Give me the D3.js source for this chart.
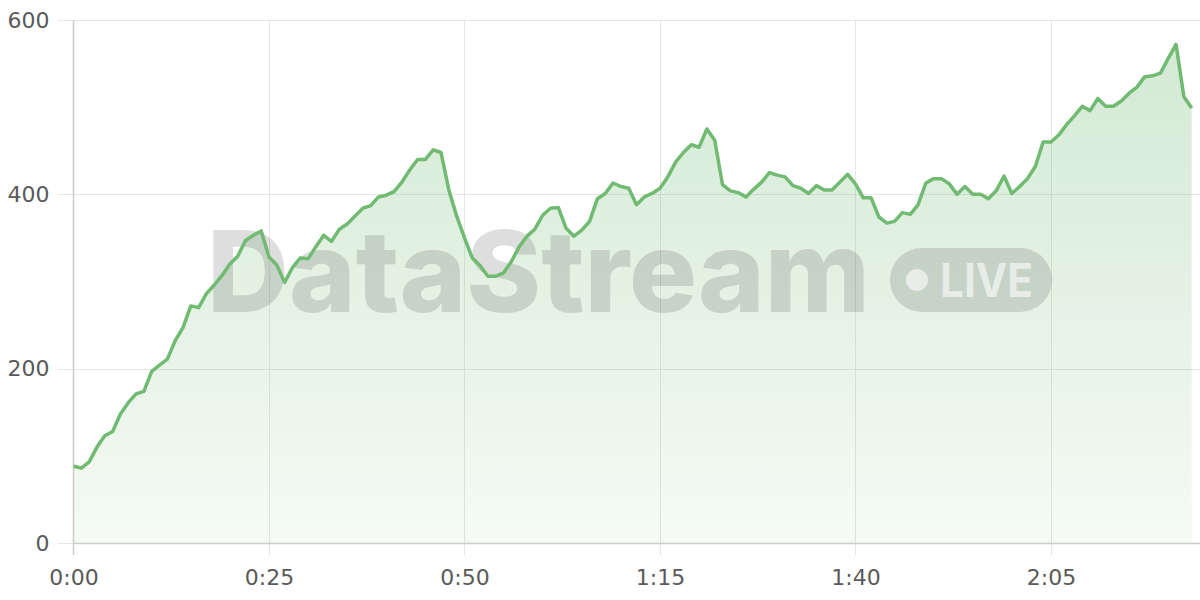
<!DOCTYPE html>
<html>
<head>
<meta charset="utf-8">
<script src="https://cdn.jsdelivr.net/npm/d3@7"></script>
<style>
  html, body { margin: 0; padding: 0; background: #ffffff; }
  svg { display: block; }
</style>
</head>
<body>
<svg id="chart" width="1200" height="600"></svg>
<script>
// ---- data ----
const seconds = d3.range(0, 144);
const values = [
  88, 86, 93, 110, 123, 128, 148, 161, 171, 174,
  197, 204, 211, 232, 247, 272, 270, 286, 296, 307,
  320, 329, 347, 353, 358, 328, 319, 299, 316, 327,
  326, 340, 353, 346, 360, 366, 375, 384, 387, 397,
  399, 403, 414, 428, 440, 440, 451, 448, 405, 375,
  350, 327, 318, 306, 306, 310, 323, 340, 352, 360,
  376, 384, 385, 361, 352, 359, 369, 395, 401, 413,
  409, 407, 388, 397, 401, 407, 420, 437, 448, 457,
  454, 475, 462, 411, 404, 402, 397, 406, 414, 425,
  422, 420, 410, 407, 401, 410, 405, 405, 414, 423,
  412, 396, 396, 374, 367, 369, 379, 377, 388, 413,
  418, 418, 412, 400, 409, 400, 400, 395, 404, 421,
  401, 409, 418, 432, 460, 460, 468, 480, 490, 501,
  496, 510, 501, 501, 507, 516, 523, 535, 536, 539,
  556, 572, 512, 499
];
const yTicks = [0, 200, 400, 600];
const xTicks = [0, 25, 50, 75, 100, 125];
const watermarkText = "DataStream";
const badgeText = "LIVE";

// ---- layout ----
const svg = d3.select("#chart");
const mLeft = 73.5, mRight = 1191.7, mTop = 20, mBottom = 543;
const x = d3.scaleLinear().domain([0, 143]).range([mLeft, mRight]);
const y = d3.scaleLinear().domain([0, 600]).range([mBottom, mTop]);
const fmt = s => Math.floor(s / 60) + ":" + String(s % 60).padStart(2, "0");
const green = "rgb(112,186,114)";

const defs = svg.append("defs");
const grad = defs.append("linearGradient")
  .attr("id", "fillGrad").attr("gradientUnits", "userSpaceOnUse")
  .attr("x1", 0).attr("x2", 0).attr("y1", y(600)).attr("y2", y(0));
grad.append("stop").attr("offset", "0%").attr("stop-color", green).attr("stop-opacity", 0.32);
grad.append("stop").attr("offset", "100%").attr("stop-color", green).attr("stop-opacity", 0.07);

// grid
svg.append("g").selectAll("line").data(yTicks).join("line")
  .attr("x1", 58).attr("x2", 1200)
  .attr("y1", d => Math.round(y(d)) + 0.5).attr("y2", d => Math.round(y(d)) + 0.5)
  .attr("stroke", "#e6e6e6").attr("stroke-width", 1);
svg.append("g").selectAll("line").data(xTicks.filter(d => d > 0)).join("line")
  .attr("x1", d => Math.round(x(d)) + 0.5).attr("x2", d => Math.round(x(d)) + 0.5)
  .attr("y1", mTop).attr("y2", 555)
  .attr("stroke", "#e6e6e6").attr("stroke-width", 1);

// area
const pts = seconds.map((s, i) => ({ s, v: values[i] }));
svg.append("path").datum(pts)
  .attr("fill", "url(#fillGrad)")
  .attr("d", d3.area().x(d => x(d.s)).y0(y(0)).y1(d => y(d.v)));

// watermark
const wm = svg.append("g");
wm.append("text")
  .attr("x", 207).attr("y", 312)
  .attr("textLength", 663).attr("lengthAdjust", "spacingAndGlyphs")
  .style("font-family", "Inter, 'Open Sans', sans-serif")
  .style("font-weight", 800).style("font-size", "113px")
  .attr("fill", "rgba(60,60,60,0.17)")
  .text(watermarkText);
wm.append("rect")
  .attr("x", 890).attr("y", 248).attr("width", 162).attr("height", 64).attr("rx", 32)
  .attr("fill", "rgba(60,60,60,0.17)");
wm.append("circle").attr("cx", 917).attr("cy", 280).attr("r", 11)
  .attr("fill", "rgba(255,255,255,0.6)");
wm.append("text")
  .attr("x", 940).attr("y", 297)
  .attr("textLength", 93).attr("lengthAdjust", "spacingAndGlyphs")
  .style("font-family", "Inter, 'Open Sans', sans-serif")
  .style("font-weight", 700).style("font-size", "46px")
  .attr("fill", "rgba(255,255,255,0.6)")
  .text(badgeText);

// axis lines
svg.append("line").attr("x1", mLeft).attr("x2", mLeft).attr("y1", mTop).attr("y2", 555)
  .attr("stroke", "#cccccc").attr("stroke-width", 1.5);
svg.append("line").attr("x1", mLeft).attr("x2", 1200).attr("y1", mBottom + 0.5).attr("y2", mBottom + 0.5)
  .attr("stroke", "#cccccc").attr("stroke-width", 1.5);

// line
svg.append("path").datum(pts)
  .attr("fill", "none").attr("stroke", green).attr("stroke-width", 3.5)
  .attr("stroke-linejoin", "round")
  .attr("d", d3.line().x(d => x(d.s)).y(d => y(d.v)));

// axes labels
const yAxis = svg.append("g").attr("transform", `translate(${mLeft},0)`)
  .call(d3.axisLeft(y).tickValues(yTicks).tickSize(0).tickPadding(24));
const xAxis = svg.append("g").attr("transform", `translate(0,${mBottom})`)
  .call(d3.axisBottom(x).tickValues(xTicks).tickFormat(fmt).tickSize(0).tickPadding(26));
[yAxis, xAxis].forEach(g => {
  g.select(".domain").remove();
  g.selectAll("text")
    .style("font-family", "'DejaVu Sans', sans-serif")
    .style("font-size", "22px")
    .attr("fill", "#5a5a5a");
});
</script>
</body>
</html>
